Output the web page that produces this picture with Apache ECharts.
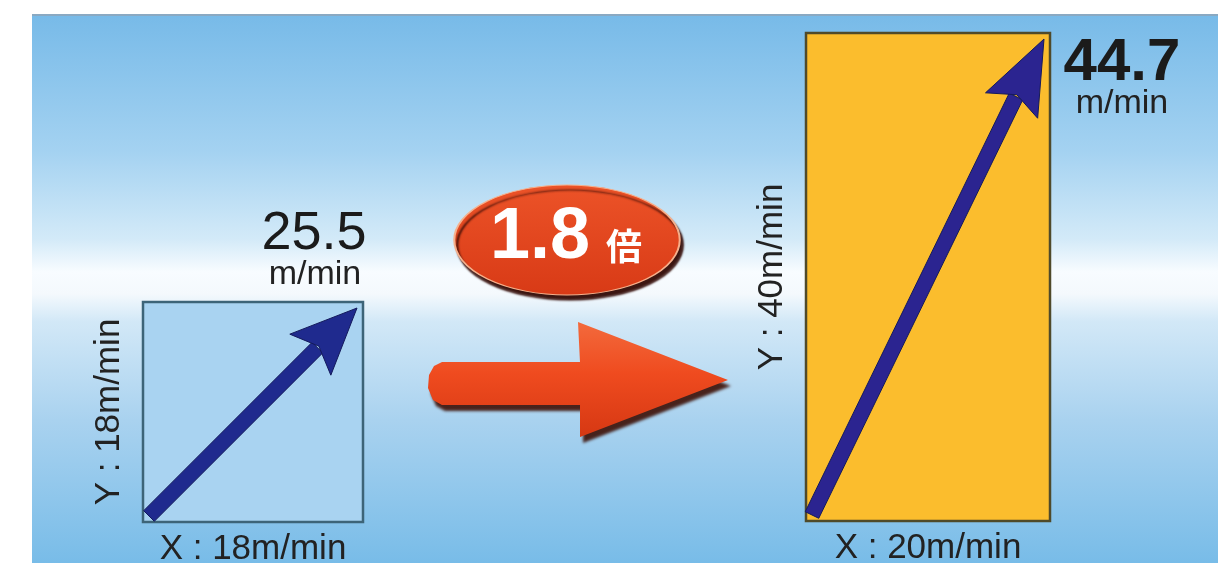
<!DOCTYPE html>
<html>
<head>
<meta charset="utf-8">
<script src="https://cdn.jsdelivr.net/npm/echarts@6.0.0/dist/echarts.min.js"></script>
<style>
  html, body { margin: 0; padding: 0; background: #fff; }
  #main { width: 1218px; height: 563px; }
</style>
</head>
<body>
<div id="main"></div>
<script>
// 速度数据 (m/min)
const speedX = [18, 20];
const speedY = [18, 40];
const speedTotal = ["25.5", "44.7"];
const ratioText = "1.8";
const unitText = "m/min";

const FONT = "'Liberation Sans', Arial, sans-serif";
const myChart = echarts.init(document.getElementById("main"));

// 每个方框的样式
const boxStyles = [
  {
    fill: "#a9d3f1",
    stroke: "#3d6478",
    arrow: "#1f2a8e",
    shaft: 15,
    headLen: 62,
    headHalf: 29,
    totalFont: "normal 54px " + FONT,
    unitFont: "normal 34px " + FONT,
    // 文字相对于右上角的位置
    totalPos: [-49, -95],
    unitPos: [-48, -44],
  },
  {
    fill: "#fbbd2d",
    stroke: "#4f4a2a",
    arrow: "#2b2490",
    shaft: 15,
    headLen: 70,
    headHalf: 29,
    totalFont: "bold 60px " + FONT,
    unitFont: "normal 34px " + FONT,
    totalPos: [72, 0],
    unitPos: [72, 54],
  },
];

function makeRender(st) {
  return function (params, api) {
    const vx = api.value(0);
    const vy = api.value(1);
    const o = api.coord([0, 0]);
    const c = api.coord([vx, vy]);
    const start = [o[0] + 6, o[1] - 6];
    const tip = [c[0] - 6, c[1] + 6];
    const dx = tip[0] - start[0];
    const dy = tip[1] - start[1];
    const len = Math.sqrt(dx * dx + dy * dy);
    const d = [dx / len, dy / len];
    const n = [-d[1], d[0]];
    const base = [tip[0] - d[0] * st.headLen, tip[1] - d[1] * st.headLen];
    const sh = st.shaft / 2;
    const shaftEnd = [base[0] + d[0] * 6, base[1] + d[1] * 6];
    return {
      type: "group",
      children: [
        {
          type: "rect",
          shape: { x: o[0], y: c[1], width: c[0] - o[0], height: o[1] - c[1] },
          style: { fill: st.fill, stroke: st.stroke, lineWidth: 2.5 },
        },
        {
          type: "polygon",
          shape: {
            points: [
              [start[0] + n[0] * sh, start[1] + n[1] * sh],
              [shaftEnd[0] + n[0] * sh, shaftEnd[1] + n[1] * sh],
              [shaftEnd[0] - n[0] * sh, shaftEnd[1] - n[1] * sh],
              [start[0] - n[0] * sh, start[1] - n[1] * sh],
            ],
          },
          style: { fill: st.arrow, stroke: "#141a5c", lineWidth: 1 },
        },
        {
          type: "polygon",
          shape: {
            points: [
              tip,
              [base[0] + n[0] * st.headHalf - d[0] * 4, base[1] + n[1] * st.headHalf - d[1] * 4],
              [base[0] + d[0] * 8, base[1] + d[1] * 8],
              [base[0] - n[0] * st.headHalf - d[0] * 4, base[1] - n[1] * st.headHalf - d[1] * 4],
            ],
          },
          style: { fill: st.arrow, stroke: "#141a5c", lineWidth: 1 },
        },
        {
          type: "text",
          style: {
            x: c[0] + st.totalPos[0],
            y: c[1] + st.totalPos[1],
            text: speedTotal[params.seriesIndex],
            font: st.totalFont,
            fill: "#1b1b1b",
            align: "center",
            verticalAlign: "top",
          },
        },
        {
          type: "text",
          style: {
            x: c[0] + st.unitPos[0],
            y: c[1] + st.unitPos[1],
            text: unitText,
            font: st.unitFont,
            fill: "#222",
            align: "center",
            verticalAlign: "top",
          },
        },
      ],
    };
  };
}

function makeAxis(idx, max, name, isY) {
  return {
    gridIndex: idx,
    type: "value",
    min: 0,
    max: max,
    axisLine: { show: false },
    axisTick: { show: false },
    axisLabel: { show: false },
    splitLine: { show: false },
    name: name,
    nameLocation: "middle",
    nameGap: isY ? 16 : 10,
    nameTextStyle: { fontSize: 35, color: "#222", fontFamily: FONT },
  };
}

const option = {
  animation: false,
  backgroundColor: "#ffffff",
  grid: [
    { left: 143, top: 302, width: 220, height: 220, outerBoundsMode: "none", containLabel: false },
    { left: 806, top: 33, width: 244, height: 488, outerBoundsMode: "none", containLabel: false },
  ],
  xAxis: [
    makeAxis(0, speedX[0], "X : " + speedX[0] + "m/min", false),
    makeAxis(1, speedX[1], "X : " + speedX[1] + "m/min", false),
  ],
  yAxis: [
    makeAxis(0, speedY[0], "Y : " + speedY[0] + "m/min", true),
    makeAxis(1, speedY[1], "Y : " + speedY[1] + "m/min", true),
  ],
  graphic: [
    {
      type: "rect",
      z: -10,
      shape: { x: 32, y: 14, width: 1186, height: 549 },
      style: {
        fill: new echarts.graphic.LinearGradient(0, 0, 0, 1, [
          { offset: 0, color: "#77bae8" },
          { offset: 0.25, color: "#a4d2f1" },
          { offset: 0.41, color: "#d3eaf8" },
          { offset: 0.47, color: "#f8fcff" },
          { offset: 0.51, color: "#f4f9fd" },
          { offset: 0.56, color: "#d2e8f7" },
          { offset: 0.74, color: "#a9d2ef" },
          { offset: 1, color: "#78bce8" },
        ]),
      },
    },
    {
      type: "line",
      z: -9,
      shape: { x1: 32, y1: 15, x2: 1218, y2: 15 },
      style: { stroke: "#8aa9c2", lineWidth: 2 },
    },
    // 橙色箭头
    {
      type: "polygon",
      z: 5,
      shape: {
        points: [
          [442, 362], [580, 362], [578, 322], [728, 380], [580, 437],
          [580, 405], [442, 405], [433, 400], [428, 388], [429, 375], [434, 366],
        ],
      },
      style: {
        fill: new echarts.graphic.LinearGradient(0, 0, 0, 1, [
          { offset: 0, color: "#f36a3c" },
          { offset: 0.45, color: "#ef4b1f" },
          { offset: 1, color: "#d63813" },
        ]),
        shadowColor: "rgba(60,15,5,0.9)",
        shadowOffsetX: 3,
        shadowOffsetY: 6,
        shadowBlur: 3,
      },
    },
    // 倍率标签
    {
      type: "circle",
      z: 5,
      x: 567,
      y: 240,
      scaleX: 2.05,
      shape: { cx: 0, cy: 0, r: 55 },
      style: {
        fill: new echarts.graphic.LinearGradient(0, 0, 0, 1, [
          { offset: 0, color: "#ec5328" },
          { offset: 1, color: "#d83a16" },
        ]),
        stroke: "#f6b08c",
        lineWidth: 1,
        shadowColor: "rgba(50,10,5,0.95)",
        shadowOffsetX: 3,
        shadowOffsetY: 5,
        shadowBlur: 2,
      },
    },
    {
      type: "text",
      z: 6,
      style: {
        x: 540,
        y: 238,
        text: ratioText,
        font: "bold 72px " + FONT,
        fill: "#ffffff",
        align: "center",
        verticalAlign: "middle",
      },
    },
    {
      type: "text",
      z: 6,
      style: {
        x: 624,
        y: 246,
        text: "倍",
        font: "bold 36px 'Noto Sans CJK JP', sans-serif",
        fill: "#ffffff",
        align: "center",
        verticalAlign: "middle",
      },
    },
  ],
  series: [
    {
      type: "custom",
      coordinateSystem: "cartesian2d",
      xAxisIndex: 0,
      yAxisIndex: 0,
      renderItem: makeRender(boxStyles[0]),
      data: [[speedX[0], speedY[0]]],
    },
    {
      type: "custom",
      coordinateSystem: "cartesian2d",
      xAxisIndex: 1,
      yAxisIndex: 1,
      renderItem: makeRender(boxStyles[1]),
      data: [[speedX[1], speedY[1]]],
    },
  ],
};

myChart.setOption(option);
</script>
</body>
</html>
